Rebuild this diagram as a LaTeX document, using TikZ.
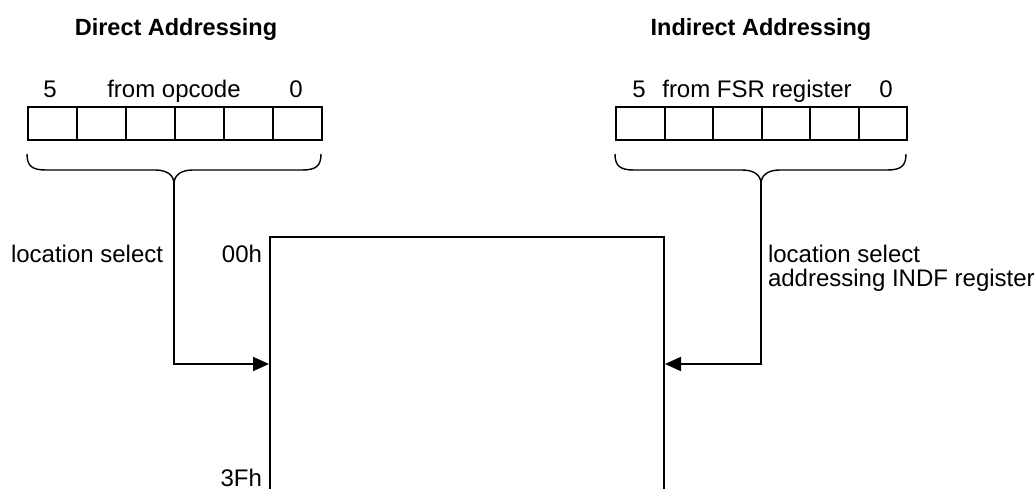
\documentclass[tikz,border=0pt]{standalone}
\usepackage{fontspec}
\setmainfont{Liberation Sans}
\usetikzlibrary{arrows.meta}
\begin{document}
\begin{tikzpicture}[x=1pt,y=-1pt,line width=2pt,
  txt/.style={font=\fontsize{24}{28}\selectfont,inner sep=0pt,anchor=base},
  title/.style={font=\fontsize{23.5}{28}\selectfont\bfseries,inner sep=0pt,anchor=base},
  lcell/.style={draw,minimum width=49pt,minimum height=33pt,inner sep=0pt,anchor=north west},
  rcell/.style={draw,minimum width=48.5pt,minimum height=33pt,inner sep=0pt,anchor=north west},
  brace/.style={line width=1.4pt},
  conn/.style={-{Triangle[length=16pt,width=14pt]},line width=2pt}]
\useasboundingbox (0,0) rectangle (1035,489);
% titles
\node[title] (t1) at (176,36) {Direct Addressing};
\node[title] (t2) at (761,36) {Indirect Addressing};
% left register labels
\node[txt] (l5) at (50,98) {5};
\node[txt] (lfrom) at (174,98) {from opcode};
\node[txt] (l0) at (296,98) {0};
% right register labels
\node[txt] (r5) at (639,98) {5};
\node[txt] (rfrom) at (757,98) {from FSR register};
\node[txt] (r0) at (886,98) {0};
% left register cells
\foreach \i in {0,...,5}{
  \node[lcell] (lc\i) at ({27+\i*49},106) {};
}
% right register cells
\foreach \i in {0,...,5}{
  \node[rcell] (rc\i) at ({615+\i*48.5},106) {};
}
% braces
\coordinate (lcusp) at (174,184);
\draw[brace] (27,154) .. controls (27,166) and (32,170) .. (46,170) -- (155,170)
  .. controls (167,170) and (174,175) .. (lcusp);
\draw[brace] (321,154) .. controls (321,166) and (316,170) .. (302,170) -- (193,170)
  .. controls (181,170) and (174,175) .. (lcusp);
\coordinate (rcusp) at (761,184);
\draw[brace] (615,154) .. controls (615,166) and (620,170) .. (634,170) -- (742,170)
  .. controls (754,170) and (761,175) .. (rcusp);
\draw[brace] (906,154) .. controls (906,166) and (901,170) .. (887,170) -- (780,170)
  .. controls (768,170) and (761,175) .. (rcusp);
% memory box
\coordinate (mbl) at (270,489);
\coordinate (mbr) at (664,489);
\draw (mbl) -- (270,237) -- (664,237) -- (mbr);
\coordinate (lin) at (269,364);
\coordinate (rin) at (665,364);
% connectors
\draw[conn] (lcusp) |- (lin);
\draw[conn] (rcusp) |- (rin);
% labels
\node[txt,anchor=base west] (lsel) at (10,262) {location select};
\node[txt,anchor=base east] (a00) at (263,262) {00h};
\node[txt,anchor=base east] (a3f) at (263,486) {3Fh};
\node[txt,anchor=base west] (rsel1) at (767,262) {location select};
\node[txt,anchor=base west] (rsel2) at (767,286) {addressing INDF register};
\end{tikzpicture}
\end{document}
